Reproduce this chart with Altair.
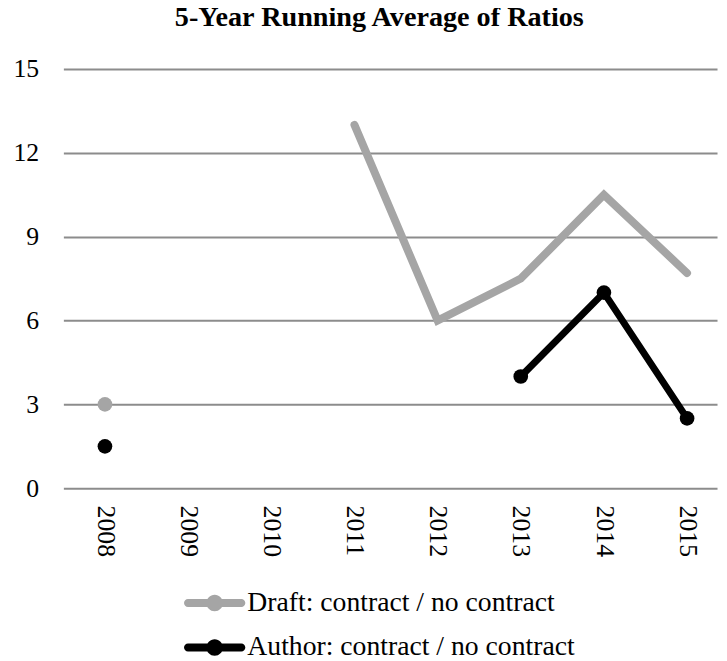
import altair as alt
import pandas as pd

# ---- data ----
years = [2008, 2009, 2010, 2011, 2012, 2013, 2014, 2015]
draft = [3.0, None, None, 13.0, 6.0, 7.5, 10.5, 7.7]
author = [1.5, None, None, None, None, 4.0, 7.0, 2.5]
series_names = ["Draft: contract / no contract", "Author: contract / no contract"]
series_colors = ["#a5a5a5", "#000000"]
series_widths = [8, 7]
y_ticks = [0, 3, 6, 9, 12, 15]
chart_title = "5-Year Running Average of Ratios"

rows = []
for name, vals in zip(series_names, [draft, author]):
    for i, (yr, v) in enumerate(zip(years, vals)):
        prev_v = vals[i - 1] if i > 0 else None
        next_v = vals[i + 1] if i < len(vals) - 1 else None
        isolated = v is not None and prev_v is None and next_v is None
        marker = (name == series_names[1]) or isolated
        rows.append({"year": yr, "value": v, "series": name, "marker": marker})
df = pd.DataFrame(rows)

FONT = "Liberation Serif"

x_enc = alt.X(
    "year:Q",
    scale=alt.Scale(domain=[2007.5, 2015.36], nice=False, zero=False),
    axis=alt.Axis(
        values=years, format="d", labelAngle=90, labelFont=FONT, labelFontSize=26,
        labelColor="#000000", labelPadding=17, grid=False, domain=False, ticks=False,
        labelFlush=False, labelOverlap=False, title=None,
    ),
)
y_enc = alt.Y(
    "value:Q",
    scale=alt.Scale(domain=[0, 15], nice=False, zero=True),
    axis=alt.Axis(
        values=y_ticks, labelFont=FONT, labelFontSize=26, labelColor="#000000",
        labelPadding=25, grid=True, gridColor="#8c8c8c", gridWidth=2,
        domain=False, ticks=False, title=None,
    ),
)

base = alt.Chart(df).encode(x=x_enc, y=y_enc)

line_layers = []
for name, col, w in zip(series_names, series_colors, series_widths):
    line_layers.append(
        base.transform_filter(alt.datum.series == name)
        .mark_line(color=col, strokeWidth=w, strokeCap="round",
                   invalid="break-paths-filter-domains")
    )

# legend glyph: thick rounded bar with a dot in the middle (same winding so it fills)
legend_path = (
    "M-0.87,-0.13 L0.87,-0.13 A0.13,0.13 0 0 1 0.87,0.13 L-0.87,0.13 "
    "A0.13,0.13 0 0 1 -0.87,-0.13 Z "
    "M-0.27,0 A0.27,0.27 0 1 1 0.27,0 A0.27,0.27 0 1 1 -0.27,0 Z"
)

points = base.transform_filter("datum.marker && isValid(datum.value)").mark_circle(
    size=220, opacity=1
).encode(
    color=alt.Color(
        "series:N",
        scale=alt.Scale(domain=series_names, range=series_colors),
        legend=alt.Legend(
            orient="none", legendX=122, legendY=509, direction="vertical", title=None,
            symbolType=legend_path, symbolSize=3844, symbolStrokeWidth=0, symbolOpacity=1,
            labelFont=FONT, labelFontSize=28, labelColor="#000000", labelOffset=2,
            rowPadding=-17, labelLimit=600,
        ),
    )
)

chart = (
    alt.layer(*line_layers, points)
    .properties(
        width=661,
        height=424,
        autosize=alt.AutoSizeParams(type="none"),
        padding={"left": 56, "top": 58, "right": 2, "bottom": 171},
        title=alt.TitleParams(
            chart_title, font=FONT, fontSize=28.5, fontWeight="bold", color="#000000",
            anchor="middle", dx=-11, offset=25,
        ),
    )
    .configure_view(stroke=None)
)

chart.save("out.html", embed_options={"renderer": "svg", "actions": False})
